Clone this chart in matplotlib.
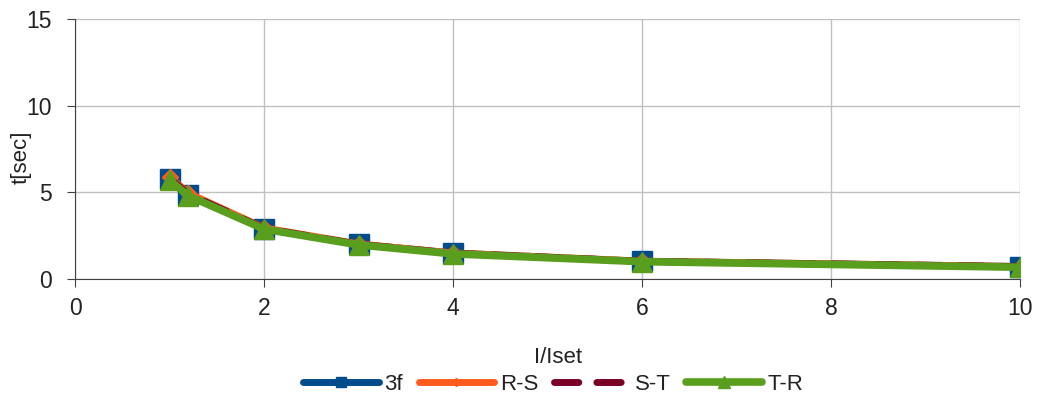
import matplotlib
matplotlib.use('Agg')
import numpy as np
import matplotlib.pyplot as plt

plt.rcParams['font.family'] = ['Liberation Sans', 'DejaVu Sans']

# data
x_ratio = [1, 1.2, 2, 3, 4, 6, 10]
t_3f = [5.75, 4.85, 2.9, 2.0, 1.5, 1.02, 0.72]
t_rs = [5.9, 4.95, 2.95, 2.02, 1.5, 1.03, 0.72]
t_st = [5.8, 4.9, 2.92, 2.0, 1.48, 1.02, 0.71]
t_tr = [5.7, 4.8, 2.88, 1.97, 1.45, 1.0, 0.68]
x_ticks = [0, 2, 4, 6, 8, 10]
y_ticks = [0, 5, 10, 15]

fig = plt.figure(figsize=(10.39, 3.96), dpi=100)
ax = fig.add_axes([75/1039, 1-279/396, (1020-75)/1039, (279-19)/396])

common = dict(solid_capstyle='round', dash_capstyle='round', solid_joinstyle='round')
ax.plot(x_ratio, t_3f, '-s', color='#004c8c', lw=5, ms=14, label='3f', **common)
ax.plot(x_ratio, t_rs, '-D', color='#ff5a1e', lw=5, ms=8, label='R-S', **common)
ax.plot(x_ratio, t_st, '--', color='#7a0026', lw=5, dashes=(3.5, 2.6), label='S-T', **common)
ax.plot(x_ratio, t_tr, '-^', color='#5a9e1e', lw=5.5, ms=15, label='T-R', **common)

ax.set_xlim(0, 10)
ax.set_ylim(0, 15)
ax.set_xticks(x_ticks)
ax.set_yticks(y_ticks)
ax.grid(True, color='#c0c0c0', lw=1)
ax.set_axisbelow(True)
for s in ['top', 'right']:
  ax.spines[s].set_visible(False)
ax.spines['left'].set_color('#404040')
ax.spines['bottom'].set_color('#404040')
ax.tick_params(direction='out', length=6, labelsize=16.5, colors='#404040', labelcolor='#222222')
ax.tick_params(axis='x', pad=7)
ax.tick_params(axis='y', pad=11)

ax.set_ylabel('t[sec]', fontsize=16, color='#222222')
ax.yaxis.set_label_coords(-0.0455, 0.47)
ax.set_xlabel('I/Iset', fontsize=16, color='#222222')
ax.xaxis.set_label_coords(0.511, -0.262)

leg = ax.legend(loc='center', bbox_to_anchor=(0.506, -0.405), ncol=4, frameon=False,
                fontsize=16, handlelength=3.4, columnspacing=0.7, handletextpad=0.25,
                markerscale=0.55, borderpad=0)
for t in leg.get_texts():
  t.set_color('#222222')

fig.savefig('out.png', dpi=100)
